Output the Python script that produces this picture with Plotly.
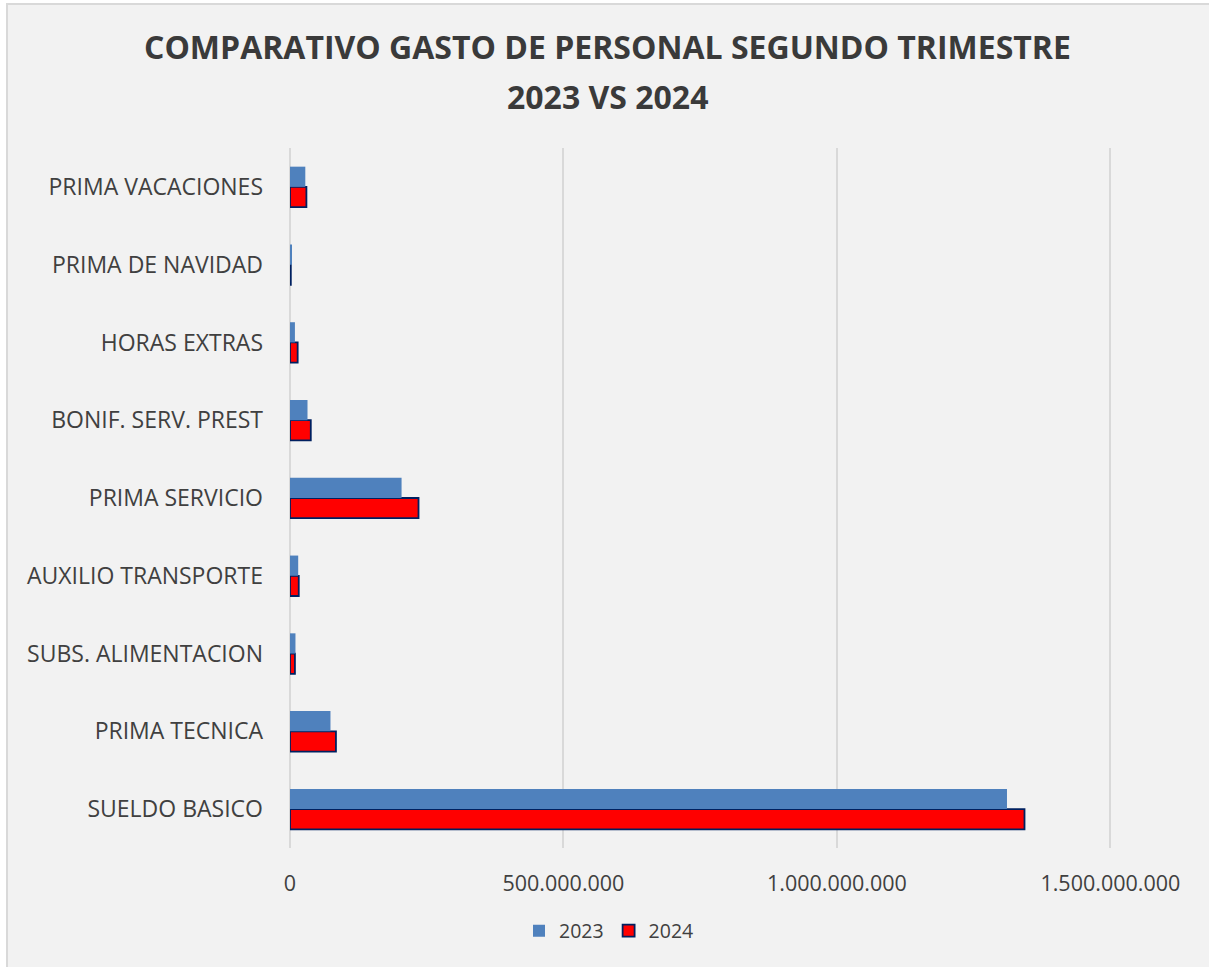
import plotly.graph_objects as go

categories = ["SUELDO BASICO", "PRIMA TECNICA", "SUBS. ALIMENTACION", "AUXILIO TRANSPORTE",
              "PRIMA SERVICIO", "BONIF. SERV. PREST", "HORAS EXTRAS", "PRIMA DE NAVIDAD",
              "PRIMA VACACIONES"]
values_2023 = [1311e6, 74e6, 10e6, 15e6, 204e6, 32e6, 9e6, 3e6, 28e6]
values_2024 = [1343e6, 84e6, 9e6, 16e6, 235e6, 38e6, 14e6, 1.5e6, 30e6]
x_ticks = [0, 500e6, 1000e6, 1500e6]
x_tick_labels = ["0", "500.000.000", "1.000.000.000", "1.500.000.000"]
title_lines = ["COMPARATIVO GASTO DE PERSONAL SEGUNDO TRIMESTRE", "2023 VS 2024"]

FONT = "Open Sans"
TXT = "#404040"

fig = go.Figure()
fig.add_trace(go.Bar(y=categories, x=values_2024, name="2024", orientation="h",
                     marker=dict(color="#ff0000", line=dict(color="#002060", width=1.8))))
fig.add_trace(go.Bar(y=categories, x=values_2023, name="2023", orientation="h",
                     marker=dict(color="#4f81bd", line=dict(width=0))))

L, R, T, B = 290, 1112, 148, 848
W, H = 1209, 967
pw, ph = R - L, B - T

def px_x(p):
    return (p - L) / pw

def px_y(p):
    return (B - p) / ph

fig.add_shape(type="rect", xref="paper", yref="paper",
              x0=px_x(7), x1=px_x(1215), y0=px_y(975), y1=px_y(4),
              fillcolor="#f2f2f2", line=dict(color="#d9d9d9", width=2), layer="below")

for line, ypx in zip(title_lines, [47, 96]):
    fig.add_annotation(text="<b>" + line + "</b>", xref="paper", yref="paper",
                       x=px_x(607), y=px_y(ypx), xanchor="center", yanchor="middle",
                       showarrow=False, font=dict(family=FONT, size=32, color="#3a3a3a"))

fig.update_layout(
    width=W, height=H,
    margin=dict(l=L, r=W - R, t=T, b=H - B, autoexpand=False),
    paper_bgcolor="white", plot_bgcolor="#f2f2f2",
    separators=",.",
    barmode="group", bargap=0.48, bargroupgap=0,
    xaxis=dict(range=[0, 1.503e9], tickvals=x_ticks, ticktext=x_tick_labels,
               showgrid=True, gridcolor="#d9d9d9", gridwidth=1.5,
               zeroline=True, zerolinecolor="#d9d9d9", zerolinewidth=2,
               showline=False, ticks="", ticklabelstandoff=20,
               tickfont=dict(family=FONT, size=21.5, color=TXT)),
    yaxis=dict(categoryorder="array", categoryarray=categories,
               showgrid=False, zeroline=False, showline=False, ticks="",
               ticklabelstandoff=26,
               tickfont=dict(family=FONT, size=23, color=TXT)),
    legend=dict(orientation="h", x=px_x(609), xanchor="center", y=px_y(931), yanchor="middle",
                traceorder="reversed", font=dict(family=FONT, size=19.5, color=TXT),
                bgcolor="rgba(0,0,0,0)", itemwidth=30),
    showlegend=True,
)

fig.write_html("out.html", config={"displayModeBar": False},
               post_script="document.body.style.margin='0';document.body.style.overflow='hidden';")
